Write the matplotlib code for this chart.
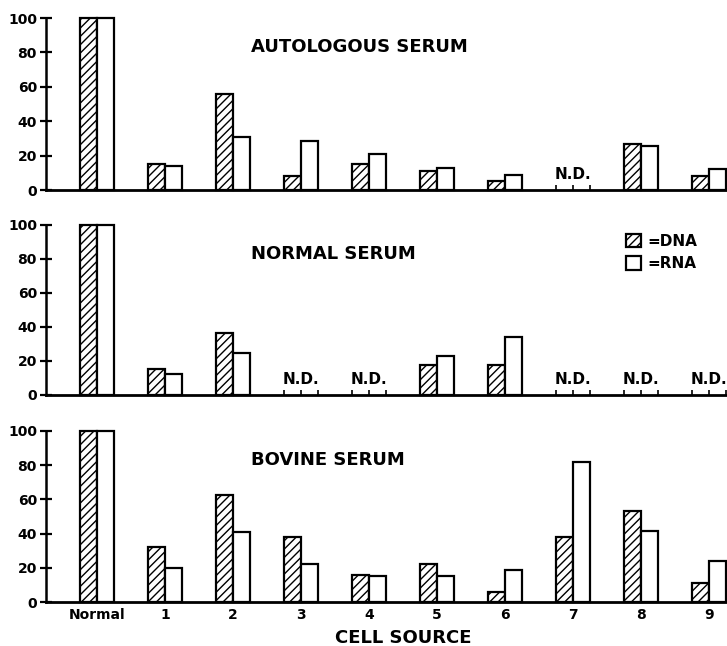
import numpy as np
import matplotlib
matplotlib.use("Agg")
import matplotlib.pyplot as plt
from matplotlib.patches import Patch

plt.rcParams['font.family'] = ['DejaVu Sans']
plt.rcParams['font.weight'] = 'bold'
plt.rcParams['hatch.linewidth'] = 1.0

# cell sources on the x axis
sources = ["Normal", "1", "2", "3", "4", "5", "6", "7", "8", "9"]
panel_titles = ["AUTOLOGOUS SERUM", "NORMAL SERUM", "BOVINE SERUM"]

# values, nan = N.D. (not determined)
nd = np.nan
auto_dna = [100, 15, 56, 8, 15, 11, 5, nd, 27, 8]
auto_rna = [100, 14, 31, 28.5, 21, 13, 8.5, nd, 25.5, 12]
norm_dna = [100, 15.5, 36.5, nd, nd, 17.5, 17.5, nd, nd, nd]
norm_rna = [100, 12.5, 25, nd, nd, 23, 34, nd, nd, nd]
bov_dna = [100, 32, 62.5, 38, 16, 22, 6, 38, 53, 11]
bov_rna = [100, 20, 41, 22.5, 15, 15, 18.5, 82, 41.5, 24]

dna_sets = [auto_dna, norm_dna, bov_dna]
rna_sets = [auto_rna, norm_rna, bov_rna]

fig = plt.figure(figsize=(7.27, 6.46), dpi=100)

# axes boxes: left edge, zero line, height (pixels)
W, H = 727.0, 646.0
boxes = [(46, 190, 172), (46, 395, 170), (46, 602, 171)]

x = np.arange(len(sources))
bw = 0.25

for k in range(3):
    left, zero_px, h_px = boxes[k]
    ax = fig.add_axes([left / W, 1 - zero_px / H, (W - left) / W, h_px / H])
    dna = np.array(dna_sets[k], dtype=float)
    rna = np.array(rna_sets[k], dtype=float)
    ok = ~np.isnan(dna)

    ax.bar(x[ok] - bw / 2, dna[ok], bw, facecolor='white', edgecolor='black',
           linewidth=1.6, hatch='////', clip_on=False, zorder=3)
    ax.bar(x[ok] + bw / 2, rna[ok], bw, facecolor='white', edgecolor='black',
           linewidth=1.6, clip_on=False, zorder=3)

    # N.D. markers
    for i in x[~ok]:
        ax.text(i, 9, "N.D.", ha='center', va='center', fontsize=11, fontweight='bold')
        ax.vlines([i - bw, i, i + bw], 0, 3, color='black', linewidth=1.2)

    ax.text(2.26, 83, panel_titles[k], ha='left', va='center', fontsize=13, fontweight='bold')

    ax.set_xlim(-0.75, 9.265)
    ax.set_ylim(0, 100)
    ax.set_yticks([0, 20, 40, 60, 80, 100])
    ax.spines['top'].set_visible(False)
    ax.spines['right'].set_visible(False)
    ax.spines['left'].set_linewidth(1.8)
    ax.spines['bottom'].set_linewidth(2.0)
    ax.tick_params(axis='y', direction='inout', length=9, width=1.6, labelsize=10, pad=2)
    ax.tick_params(axis='x', length=0, labelsize=10, pad=4)
    for lab in ax.get_yticklabels():
        lab.set_fontweight('bold')

    if k == 2:
        ax.set_xticks(x)
        ax.set_xticklabels(sources, fontweight='bold')
        ax.set_xlabel("CELL SOURCE", fontsize=13, fontweight='bold')
        ax.xaxis.set_label_coords((403 - 46) / (W - 46), -0.16)
    else:
        ax.set_xticks([])

    if k == 1:
        handles = [Patch(facecolor='white', edgecolor='black', hatch='////', linewidth=1.6),
                   Patch(facecolor='white', edgecolor='black', linewidth=1.6)]
        ax.legend(handles, ["=DNA", "=RNA"], loc='upper left',
                  bbox_to_anchor=(0.852, 0.95), frameon=False,
                  handlelength=1.0, handleheight=1.0, handletextpad=0.4,
                  labelspacing=0.5, borderpad=0, borderaxespad=0,
                  prop={'weight': 'bold', 'size': 11})

fig.savefig("out.png", dpi=100)
